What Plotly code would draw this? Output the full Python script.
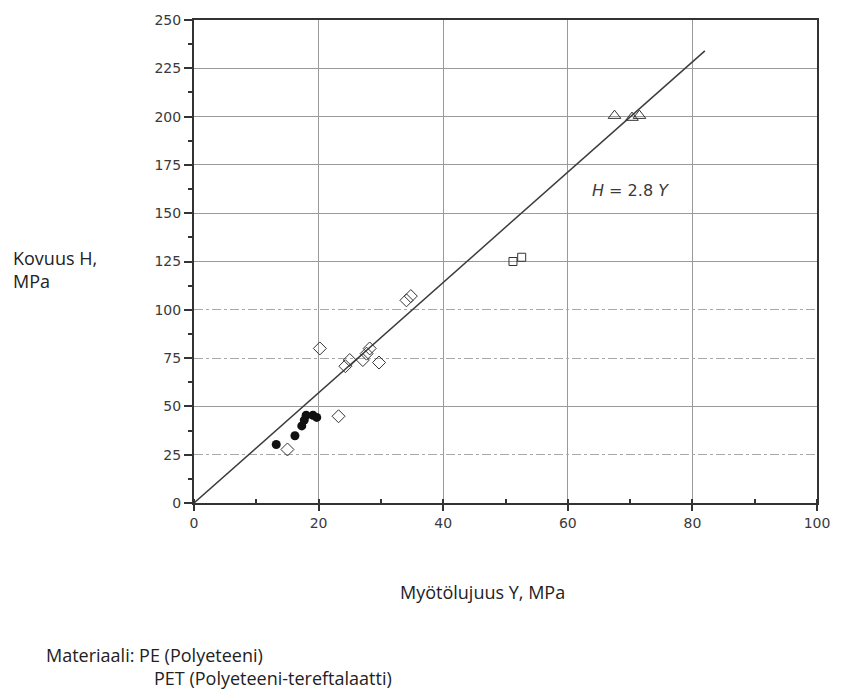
import plotly.graph_objects as go

# ---- data ----
pe_x = [13.2, 16.2, 17.3, 17.7, 18.0, 19.1, 19.7]
pe_y = [30.3, 34.8, 39.9, 42.9, 45.4, 45.4, 44.3]

dia_x = [15.0, 20.2, 23.2, 24.3, 25.0, 27.1, 27.7, 28.2, 29.7, 34.1, 34.8]
dia_y = [27.7, 80.0, 44.9, 70.8, 74.0, 74.0, 77.3, 80.0, 72.7, 104.9, 107.1]

sq_x = [51.2, 52.6]
sq_y = [125.0, 127.2]

tri_x = [67.5, 70.3, 71.5]
tri_y = [200.5, 199.5, 200.5]

fit_x = [0.0, 82.0]
fit_y = [0.0, 234.0]

x_ticks = [0, 20, 40, 60, 80, 100]
y_ticks = [0, 25, 50, 75, 100, 125, 150, 175, 200, 225, 250]
y_grid_solid = [50, 125, 150, 175, 200, 225]
y_grid_dotted = [25, 75, 100]

ink = "#333333"
grid = "#9a9a9a"
tickfont = dict(family="DejaVu Sans", size=14, color="#3a3a3a")
textfont = dict(family="Open Sans", size=18, color="#222222")

fig = go.Figure()
fig.add_trace(go.Scatter(x=fit_x, y=fit_y, mode="lines",
                         line=dict(color="#3c3c3c", width=1.5), hoverinfo="skip"))
fig.add_trace(go.Scatter(x=dia_x, y=dia_y, mode="markers",
                         marker=dict(symbol="diamond-open", size=10, color=ink,
                                     line=dict(width=1, color=ink))))
fig.add_trace(go.Scatter(x=sq_x, y=sq_y, mode="markers",
                         marker=dict(symbol="square-open", size=8, color=ink,
                                     line=dict(width=1, color=ink))))
fig.add_trace(go.Scatter(x=tri_x, y=tri_y, mode="markers",
                         marker=dict(symbol="triangle-up-open", size=11, color=ink,
                                     line=dict(width=1, color=ink))))
fig.add_trace(go.Scatter(x=pe_x, y=pe_y, mode="markers",
                         marker=dict(symbol="circle", size=9, color="#111111")))
# helper traces so overlay grid axes are created
fig.add_trace(go.Scatter(x=[], y=[], yaxis="y2", showlegend=False))
fig.add_trace(go.Scatter(x=[], y=[], yaxis="y3", showlegend=False))

fig.update_layout(
    width=842, height=693,
    margin=dict(l=194, r=20, t=19, b=190),
    paper_bgcolor="white", plot_bgcolor="white",
    showlegend=False,
    xaxis=dict(range=[0, 100], tickmode="array", tickvals=x_ticks,
               ticks="outside", ticklen=6, tickwidth=1.5, tickcolor=ink,
               showline=True, linewidth=2, linecolor=ink, mirror=True,
               showgrid=True, gridcolor=grid, gridwidth=1, zeroline=False,
               minor=dict(dtick=10, tick0=0, ticks="inside", ticklen=4,
                          tickcolor=ink, showgrid=False),
               tickfont=tickfont),
    yaxis=dict(range=[0, 250], tickmode="array", tickvals=y_ticks,
               ticks="outside", ticklen=8, tickwidth=1.5, tickcolor=ink,
               showline=True, linewidth=2, linecolor=ink, mirror=True,
               showgrid=False, zeroline=False,
               minor=dict(dtick=12.5, tick0=0, ticks="outside", ticklen=4,
                          tickcolor=ink, showgrid=False),
               tickfont=tickfont),
    yaxis2=dict(range=[0, 250], overlaying="y", tickmode="array",
                tickvals=y_grid_solid, showticklabels=False, ticks="",
                showgrid=True, gridcolor=grid, gridwidth=1,
                showline=False, zeroline=False),
    yaxis3=dict(range=[0, 250], overlaying="y", tickmode="array",
                tickvals=y_grid_dotted, showticklabels=False, ticks="",
                showgrid=True, gridcolor="#a8a8a8", gridwidth=1, griddash="dashdot",
                showline=False, zeroline=False),
    annotations=[
        dict(text="<i>H</i> = 2.8 <i>Y</i>", x=63.5, y=162, xref="x", yref="y",
             xanchor="left", yanchor="middle", showarrow=False,
             font=dict(family="DejaVu Sans", size=16, color="#3a3a3a")),
        dict(text="Kovuus H,<br>MPa", x=-0.294, y=0.483, xref="paper", yref="paper",
             xanchor="left", yanchor="middle", align="left", showarrow=False,
             font=textfont),
        dict(text="Myötölujuus Y, MPa", x=0.463, y=-0.184, xref="paper", yref="paper",
             xanchor="center", yanchor="middle", showarrow=False, font=textfont),
        dict(text="Materiaali: PE (Polyeteeni)", x=-0.240, y=-0.314, xref="paper",
             yref="paper", xanchor="left", yanchor="middle", showarrow=False,
             font=textfont),
        dict(text="PET (Polyeteeni-tereftalaatti)", x=-0.068, y=-0.362, xref="paper",
             yref="paper", xanchor="left", yanchor="middle", showarrow=False,
             font=textfont),
    ],
)

fig.write_html("out.html")
